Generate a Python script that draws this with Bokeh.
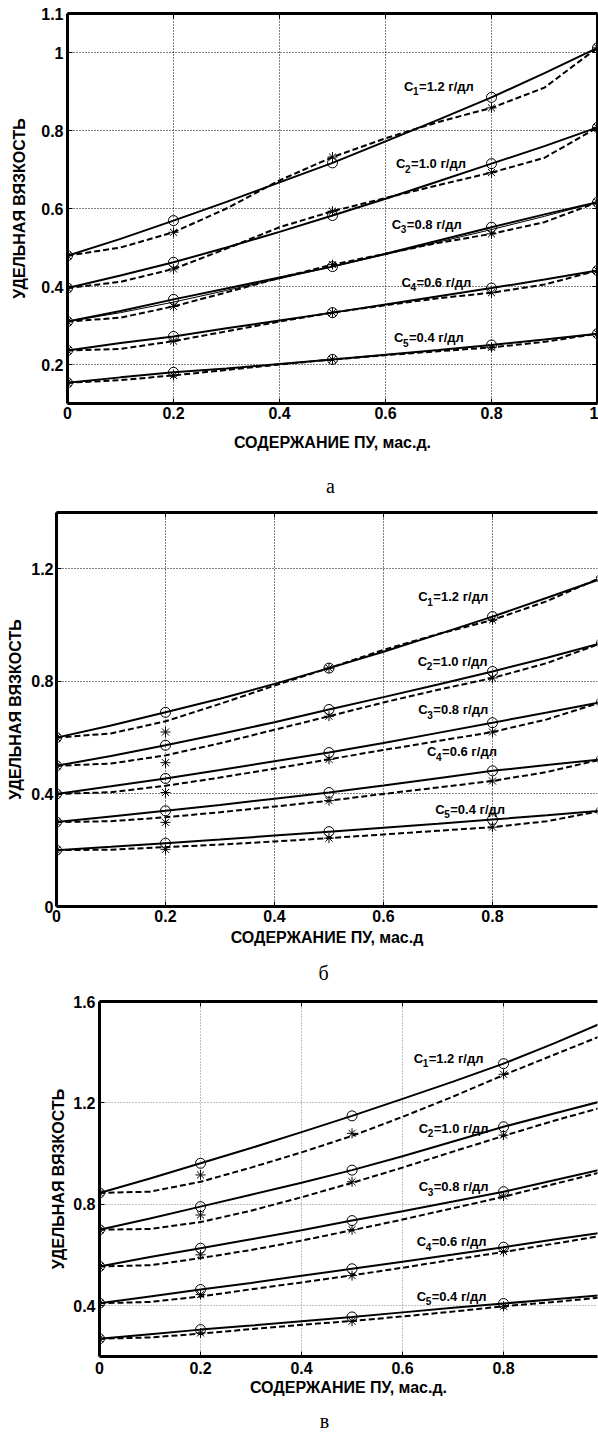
from bokeh.plotting import figure
from bokeh.models import FixedTicker, LinearAxis, Range1d
from bokeh.embed import file_html
from bokeh.resources import INLINE
from bokeh.core.properties import value

FONT = "Liberation Sans"
SERIF = "Liberation Serif"

# ---------------- data ----------------
X_PTS = [0.0, 0.2, 0.5, 0.8, 1.0]
X_CURVE = [0.0, 0.1, 0.2, 0.3, 0.4, 0.5, 0.6, 0.7, 0.8, 0.9, 1.0]

LABEL_SUBS = ["1", "2", "3", "4", "5"]
LABEL_TEXTS = ["=1.2 г/дл", "=1.0 г/дл", "=0.8 г/дл", "=0.6 г/дл", "=0.4 г/дл"]
X_TITLE_A = "СОДЕРЖАНИЕ ПУ, мас.д."
X_TITLE_B = "СОДЕРЖАНИЕ ПУ, мас.д"
X_TITLE_C = "СОДЕРЖАНИЕ ПУ, мас.д."
Y_TITLE = "УДЕЛЬНАЯ ВЯЗКОСТЬ"
CAPTIONS = ["а", "б", "в"]

# panel a
A_XTICKS = [0, 0.2, 0.4, 0.6, 0.8, 1.0]
A_XTICK_LABELS = ["0", "0.2", "0.4", "0.6", "0.8", "1"]
A_YTICKS = [0.2, 0.4, 0.6, 0.8, 1.0, 1.1]
A_YTICK_LABELS = ["0.2", "0.4", "0.6", "0.8", "1", "1.1"]
A_CIRC = [[0.479, 0.569, 0.717, 0.885, 1.012],
          [0.396, 0.462, 0.582, 0.715, 0.808],
          [0.310, 0.367, 0.451, 0.552, 0.616],
          [0.236, 0.272, 0.333, 0.396, 0.441],
          [0.153, 0.180, 0.213, 0.250, 0.279]]
A_STAR = [[0.479, 0.539, 0.732, 0.858, 1.012],
          [0.396, 0.445, 0.593, 0.692, 0.808],
          [0.310, 0.349, 0.456, 0.535, 0.616],
          [0.236, 0.260, 0.333, 0.384, 0.441],
          [0.153, 0.172, 0.213, 0.244, 0.279]]
A_SOLID = [[0.479, 0.522, 0.569, 0.617, 0.667, 0.717, 0.772, 0.828, 0.885, 0.947, 1.012],
           [0.396, 0.428, 0.462, 0.500, 0.540, 0.582, 0.625, 0.670, 0.715, 0.760, 0.808],
           [0.310, 0.337, 0.367, 0.395, 0.423, 0.451, 0.484, 0.518, 0.552, 0.585, 0.616],
           [0.236, 0.255, 0.272, 0.293, 0.313, 0.333, 0.354, 0.375, 0.396, 0.418, 0.441],
           [0.153, 0.167, 0.180, 0.190, 0.201, 0.213, 0.225, 0.237, 0.250, 0.264, 0.279]]
A_DASH = [[0.479, 0.500, 0.539, 0.600, 0.672, 0.732, 0.780, 0.822, 0.858, 0.910, 1.012],
          [0.396, 0.412, 0.445, 0.497, 0.552, 0.593, 0.627, 0.660, 0.692, 0.730, 0.808],
          [0.310, 0.320, 0.349, 0.385, 0.422, 0.456, 0.484, 0.512, 0.535, 0.565, 0.616],
          [0.236, 0.240, 0.260, 0.285, 0.310, 0.333, 0.352, 0.370, 0.384, 0.405, 0.441],
          [0.153, 0.160, 0.172, 0.186, 0.200, 0.213, 0.224, 0.234, 0.244, 0.258, 0.279]]
A_THIN = [[0.310, 0.333, 0.360, 0.390, 0.420, 0.451, 0.482, 0.514, 0.546, 0.580, 0.616]]
A_LABEL_X = [0.635, 0.620, 0.612, 0.630, 0.616]
A_LABEL_Y = [0.913, 0.715, 0.559, 0.411, 0.269]

# panel b
B_XTICKS = [0, 0.2, 0.4, 0.6, 0.8, 1.0]
B_XTICK_LABELS = ["0", "0.2", "0.4", "0.6", "0.8", "1"]
B_YTICKS = [0, 0.4, 0.8, 1.2]
B_YTICK_LABELS = ["0", "0.4", "0.8", "1.2"]
B_CIRC = [[0.60, 0.690, 0.847, 1.030, 1.165],
          [0.50, 0.573, 0.700, 0.835, 0.936],
          [0.40, 0.455, 0.547, 0.653, 0.726],
          [0.30, 0.340, 0.405, 0.482, 0.523],
          [0.20, 0.225, 0.266, 0.309, 0.340]]
B_STAR = [[0.60, 0.620, 0.847, 1.018, 1.170],
          [0.50, 0.511, 0.676, 0.812, 0.936],
          [0.40, 0.405, 0.523, 0.620, 0.726],
          [0.30, 0.299, 0.376, 0.446, 0.523],
          [0.20, 0.203, 0.243, 0.282, 0.340]]
B_SOLID = [[0.60, 0.643, 0.690, 0.738, 0.791, 0.847, 0.905, 0.967, 1.030, 1.097, 1.165],
           [0.50, 0.535, 0.573, 0.613, 0.655, 0.700, 0.744, 0.789, 0.835, 0.884, 0.936],
           [0.40, 0.427, 0.455, 0.485, 0.516, 0.547, 0.581, 0.617, 0.653, 0.689, 0.726],
           [0.30, 0.320, 0.340, 0.361, 0.383, 0.405, 0.430, 0.456, 0.482, 0.503, 0.523],
           [0.20, 0.212, 0.225, 0.238, 0.252, 0.266, 0.280, 0.294, 0.309, 0.324, 0.340]]
B_DASH = [[0.60, 0.615, 0.658, 0.720, 0.785, 0.847, 0.912, 0.968, 1.018, 1.085, 1.170],
          [0.50, 0.508, 0.537, 0.580, 0.628, 0.676, 0.725, 0.770, 0.812, 0.865, 0.936],
          [0.40, 0.406, 0.429, 0.458, 0.490, 0.523, 0.556, 0.588, 0.620, 0.665, 0.726],
          [0.30, 0.303, 0.317, 0.335, 0.355, 0.376, 0.400, 0.423, 0.446, 0.478, 0.523],
          [0.20, 0.202, 0.211, 0.220, 0.231, 0.243, 0.256, 0.269, 0.282, 0.303, 0.340]]
B_LABEL_X = [0.664, 0.663, 0.664, 0.680, 0.695]
B_LABEL_Y = [1.100, 0.871, 0.700, 0.549, 0.346]

# panel c
C_XTICKS = [0, 0.2, 0.4, 0.6, 0.8, 1.0]
C_XTICK_LABELS = ["0", "0.2", "0.4", "0.6", "0.8", "1"]
C_YTICKS = [0.4, 0.8, 1.2, 1.6]
C_YTICK_LABELS = ["0.4", "0.8", "1.2", "1.6"]
C_CIRC = [[0.845, 0.962, 1.149, 1.355, 1.520],
          [0.700, 0.791, 0.935, 1.106, 1.210],
          [0.555, 0.627, 0.736, 0.850, 0.940],
          [0.410, 0.464, 0.546, 0.631, 0.690],
          [0.270, 0.306, 0.356, 0.409, 0.443]]
C_STAR = [[0.845, 0.916, 1.080, 1.313, 1.470],
          [0.700, 0.758, 0.889, 1.073, 1.185],
          [0.555, 0.601, 0.700, 0.833, 0.930],
          [0.410, 0.444, 0.519, 0.614, 0.678],
          [0.270, 0.293, 0.339, 0.398, 0.434]]
C_SOLID = [[0.845, 0.902, 0.962, 1.022, 1.085, 1.149, 1.216, 1.284, 1.355, 1.435, 1.520],
           [0.700, 0.744, 0.791, 0.838, 0.885, 0.935, 0.990, 1.048, 1.106, 1.158, 1.210],
           [0.555, 0.592, 0.627, 0.662, 0.698, 0.736, 0.773, 0.811, 0.850, 0.895, 0.940],
           [0.410, 0.437, 0.464, 0.490, 0.518, 0.546, 0.574, 0.602, 0.631, 0.661, 0.690],
           [0.270, 0.288, 0.306, 0.322, 0.339, 0.356, 0.374, 0.392, 0.409, 0.426, 0.443]]
C_DASH = [[0.845, 0.850, 0.889, 0.945, 1.005, 1.070, 1.145, 1.225, 1.310, 1.390, 1.470],
          [0.700, 0.703, 0.730, 0.775, 0.828, 0.885, 0.945, 1.008, 1.070, 1.130, 1.185],
          [0.555, 0.560, 0.588, 0.620, 0.657, 0.698, 0.740, 0.785, 0.830, 0.880, 0.930],
          [0.410, 0.415, 0.437, 0.465, 0.492, 0.520, 0.550, 0.582, 0.612, 0.645, 0.678],
          [0.270, 0.275, 0.290, 0.308, 0.325, 0.340, 0.358, 0.377, 0.398, 0.415, 0.434]]
C_LABEL_X = [0.622, 0.632, 0.632, 0.628, 0.628]
C_LABEL_Y = [1.376, 1.100, 0.870, 0.653, 0.437]

W = 598


def make_panel(xr, yr, xticks, xlabels, yticks, ylabels, xtitle, circ, star, solid, dash,
               lab_x, lab_y, mb_left, mb_top, frame_h, mb_bottom, grid_color,
               ytick_standoff, ytitle_standoff, xtick_standoff, xtitle_standoff,
               right_axis=False, thin=None):
    height = mb_top + frame_h + mb_bottom
    p = figure(width=W, height=height, x_range=Range1d(*xr), y_range=Range1d(*yr),
               output_backend="svg", toolbar_location=None, title=None,
               min_border_left=mb_left, min_border_right=1, min_border_top=mb_top,
               min_border_bottom=mb_bottom)
    p.outline_line_color = None
    p.background_fill_color = "white"
    p.border_fill_color = "white"
    xt = FixedTicker(ticks=xticks)
    yt = FixedTicker(ticks=yticks)
    xover = {t: s for t, s in zip(xticks, xlabels)}
    yover = {t: s for t, s in zip(yticks, ylabels)}

    for ax in (p.xaxis[0], p.yaxis[0]):
        ax.axis_line_width = 3
        ax.axis_line_color = "black"
        ax.major_tick_in = 5
        ax.major_tick_out = 0
        ax.minor_tick_in = 0
        ax.minor_tick_out = 0
        ax.major_tick_line_width = 1
        ax.major_label_text_font = FONT
        ax.major_label_text_font_style = "bold"
        ax.major_label_text_font_size = "16px"
        ax.major_label_text_color = "black"
        ax.axis_label_text_font = FONT
        ax.axis_label_text_font_style = "bold"
        ax.axis_label_text_font_size = "16px"
        ax.axis_label_text_color = "black"
    p.xaxis[0].ticker = xt
    p.yaxis[0].ticker = yt
    p.xaxis[0].major_label_overrides = xover
    p.yaxis[0].major_label_overrides = yover
    p.xaxis[0].axis_label = xtitle
    p.yaxis[0].axis_label = Y_TITLE
    p.yaxis[0].major_label_standoff = ytick_standoff
    p.yaxis[0].axis_label_standoff = ytitle_standoff
    p.xaxis[0].major_label_standoff = xtick_standoff
    p.xaxis[0].axis_label_standoff = xtitle_standoff

    extra = [("above", xt)]
    if right_axis:
        extra.append(("right", yt))
    for loc, tk in extra:
        ax = LinearAxis(ticker=tk, axis_line_width=3, axis_line_color="black",
                        major_tick_in=5, major_tick_out=0, minor_tick_in=0, minor_tick_out=0,
                        major_label_text_font_size="1px", major_label_text_alpha=0,
                        major_label_standoff=0)
        p.add_layout(ax, loc)

    p.xgrid.ticker = xt
    p.ygrid.ticker = yt
    p.grid.grid_line_color = grid_color
    p.grid.grid_line_dash = "1 2"
    p.grid.grid_line_width = 1

    if thin:
        for ys in thin:
            p.line(X_CURVE, ys, line_width=1, color="black")
    for i in range(5):
        p.line(X_CURVE, solid[i], line_width=2, color="black")
        p.line(X_CURVE, dash[i], line_width=2, color="black", line_dash="6 3")
        p.scatter(X_PTS, circ[i], marker="circle", size=10, fill_color=None,
                  line_color="black", line_width=1)
        p.scatter(X_PTS, star[i], marker="asterisk", size=10, line_color="black",
                  line_width=1)

    p.text(x=lab_x, y=lab_y, text=["C"] * 5, text_font=value(FONT), text_font_style="bold",
           text_font_size="13px", text_baseline="middle", text_align="left", text_color="black")
    p.text(x=lab_x, y=lab_y, text=LABEL_SUBS, text_font=value(FONT), text_font_style="bold",
           text_font_size="10px", text_baseline="middle", text_align="left",
           x_offset=9, y_offset=5, text_color="black")
    p.text(x=lab_x, y=lab_y, text=LABEL_TEXTS, text_font=value(FONT), text_font_style="bold",
           text_font_size="13px", text_baseline="middle", text_align="left",
           x_offset=15, text_color="black")
    return p


def caption_strip(txt, h, cx, cy_from_top):
    # a strip with no axes that only carries the panel letter
    c = figure(width=W, height=h, x_range=Range1d(0, W), y_range=Range1d(0, h),
               output_backend="svg", toolbar_location=None, title=None,
               x_axis_type=None, y_axis_type=None, min_border=0)
    c.outline_line_color = None
    c.background_fill_color = "white"
    c.border_fill_color = "white"
    c.text(x=[cx], y=[h - cy_from_top], text=[txt], text_font=value(SERIF),
           text_font_size="20px", text_align="center", text_baseline="middle",
           text_color="black")
    return c


pa = make_panel((0, 1.0), (0.1, 1.1), A_XTICKS, A_XTICK_LABELS, A_YTICKS, A_YTICK_LABELS,
                X_TITLE_A, A_CIRC, A_STAR, A_SOLID, A_DASH, A_LABEL_X, A_LABEL_Y,
                mb_left=67, mb_top=13, frame_h=390, mb_bottom=55, grid_color="black",
                ytick_standoff=4, ytitle_standoff=10, xtick_standoff=3, xtitle_standoff=12,
                right_axis=True, thin=A_THIN)
ca = caption_strip(CAPTIONS[0], 42, 330, 27)
pb = make_panel((0, 0.9927), (0, 1.4), B_XTICKS, B_XTICK_LABELS, B_YTICKS, B_YTICK_LABELS,
                X_TITLE_B, B_CIRC, B_STAR, B_SOLID, B_DASH, B_LABEL_X, B_LABEL_Y,
                mb_left=56, mb_top=12, frame_h=396, mb_bottom=40, grid_color="black",
                ytick_standoff=3, ytitle_standoff=4, xtick_standoff=3, xtitle_standoff=4)
cb = caption_strip(CAPTIONS[1], 42, 323, 24)
pc = make_panel((0, 0.986), (0.2, 1.6), C_XTICKS, C_XTICK_LABELS, C_YTICKS, C_YTICK_LABELS,
                X_TITLE_C, C_CIRC, C_STAR, C_SOLID, C_DASH, C_LABEL_X, C_LABEL_Y,
                mb_left=99, mb_top=11, frame_h=357, mb_bottom=40, grid_color="#808080",
                ytick_standoff=4, ytitle_standoff=3, xtick_standoff=5, xtitle_standoff=2)
cc = caption_strip(CAPTIONS[2], 36, 324, 22)

open("out.html", "w").write(file_html([pa, ca, pb, cb, pc, cc], INLINE))
